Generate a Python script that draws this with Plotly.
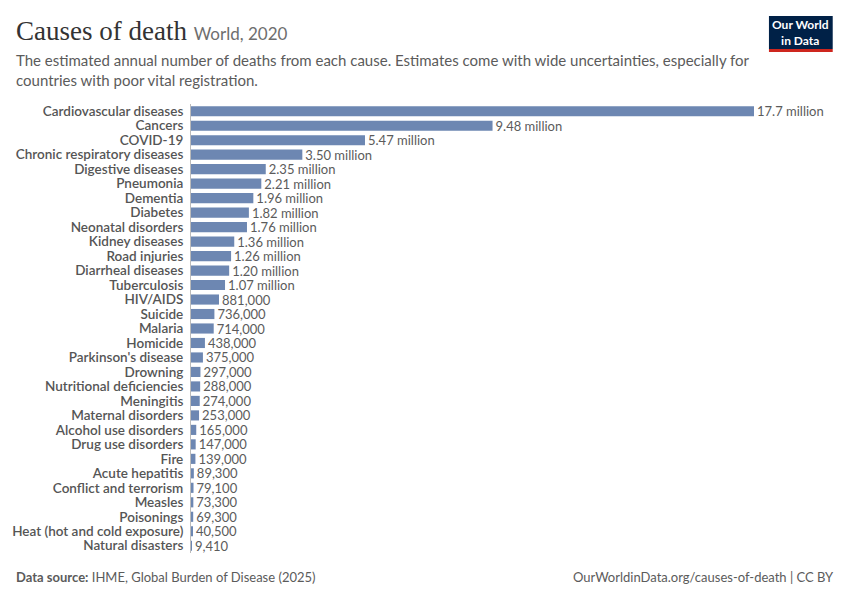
import plotly.graph_objects as go

causes = [
    "Cardiovascular diseases", "Cancers", "COVID-19", "Chronic respiratory diseases",
    "Digestive diseases", "Pneumonia", "Dementia", "Diabetes", "Neonatal disorders",
    "Kidney diseases", "Road injuries", "Diarrheal diseases", "Tuberculosis", "HIV/AIDS",
    "Suicide", "Malaria", "Homicide", "Parkinson's disease", "Drowning",
    "Nutritional deficiencies", "Meningitis", "Maternal disorders", "Alcohol use disorders",
    "Drug use disorders", "Fire", "Acute hepatitis", "Conflict and terrorism", "Measles",
    "Poisonings", "Heat (hot and cold exposure)", "Natural disasters",
]
deaths = [
    17.7e6, 9.48e6, 5.47e6, 3.50e6, 2.35e6, 2.21e6, 1.96e6, 1.82e6, 1.76e6,
    1.36e6, 1.26e6, 1.20e6, 1.07e6, 881000, 736000, 714000, 438000, 375000, 297000,
    288000, 274000, 253000, 165000, 147000, 139000, 89300, 79100, 73300,
    69300, 40500, 9410,
]


def fmt(v):
    if v >= 10e6:
        return f"{v / 1e6:.1f} million"
    if v >= 1e6:
        return f"{v / 1e6:.2f} million"
    return f"{v:,.0f}"


W, H = 850, 600
L, R, T, B = 189, 96, 104, 47
PW, PH = W - L - R, H - T - B


def px(x):
    return (x - L) / PW


def py(y):
    return (H - B - y) / PH


GREY = "#5b5b5b"
FONT = "Lato"

fig = go.Figure(go.Bar(
    x=deaths, y=causes, orientation="h",
    marker=dict(color="#6d87b2", line_width=0),
    text=[fmt(v) for v in deaths], textposition="outside", constraintext="none",
    textfont=dict(family=FONT, size=13, color=GREY),
    cliponaxis=False, hoverinfo="skip",
))

fig.update_layout(
    width=W, height=H,
    margin=dict(l=L, r=R, t=T, b=B),
    paper_bgcolor="white", plot_bgcolor="white",
    bargap=0.3, showlegend=False,
    font=dict(family=FONT, color=GREY),
    title=dict(
        text="Causes of death <span style='font-family:Lato;font-size:17px;color:#6e6e6e'>World, 2020</span>",
        font=dict(family="Liberation Serif", size=27, color="#333333"),
        x=16 / W, xanchor="left", y=1 - 31 / H, yanchor="middle",
    ),
)
fig.update_xaxes(visible=False, range=[0, max(deaths)])
fig.update_yaxes(
    autorange="reversed", showgrid=False, showline=True, linecolor="#bbbbbb", linewidth=1,
    ticks="", ticklabelstandoff=4, tickmode="linear", dtick=1,
    tickfont=dict(family=FONT, size=13.5, color="#555555", weight=600),
)

# annotations carry a few px of padding, so nudge them back to the text edge
fig.add_annotation(
    text="The estimated annual number of deaths from each cause. Estimates come with wide uncertainties, especially for<br>countries with poor vital registration.",
    x=px(11), y=py(70), xref="paper", yref="paper", xanchor="left", yanchor="middle",
    align="left", showarrow=False, font=dict(family=FONT, size=15, color=GREY),
)
fig.add_annotation(
    text="<b>Data source:</b> IHME, Global Burden of Disease (2025)",
    x=px(11), y=py(577), xref="paper", yref="paper", xanchor="left", yanchor="middle",
    showarrow=False, font=dict(family=FONT, size=13, color=GREY),
)
fig.add_annotation(
    text="OurWorldinData.org/causes-of-death | CC BY",
    x=px(836), y=py(577), xref="paper", yref="paper", xanchor="right", yanchor="middle",
    showarrow=False, font=dict(family=FONT, size=13, color=GREY),
)

# logo
fig.add_shape(type="rect", xref="paper", yref="paper", x0=px(769), x1=px(833), y0=py(49), y1=py(16),
              fillcolor="#002147", line_width=0)
fig.add_shape(type="rect", xref="paper", yref="paper", x0=px(769), x1=px(833), y0=py(52), y1=py(49),
              fillcolor="#ce261e", line_width=0)
fig.add_annotation(
    text="<b>Our World<br>in Data</b>", x=px(801), y=py(32.5), xref="paper", yref="paper",
    xanchor="center", yanchor="middle", showarrow=False,
    font=dict(family=FONT, size=12, color="white"),
)

fig.write_html("out.html", config={"displayModeBar": False},
               post_script="document.body.style.margin='0';")
